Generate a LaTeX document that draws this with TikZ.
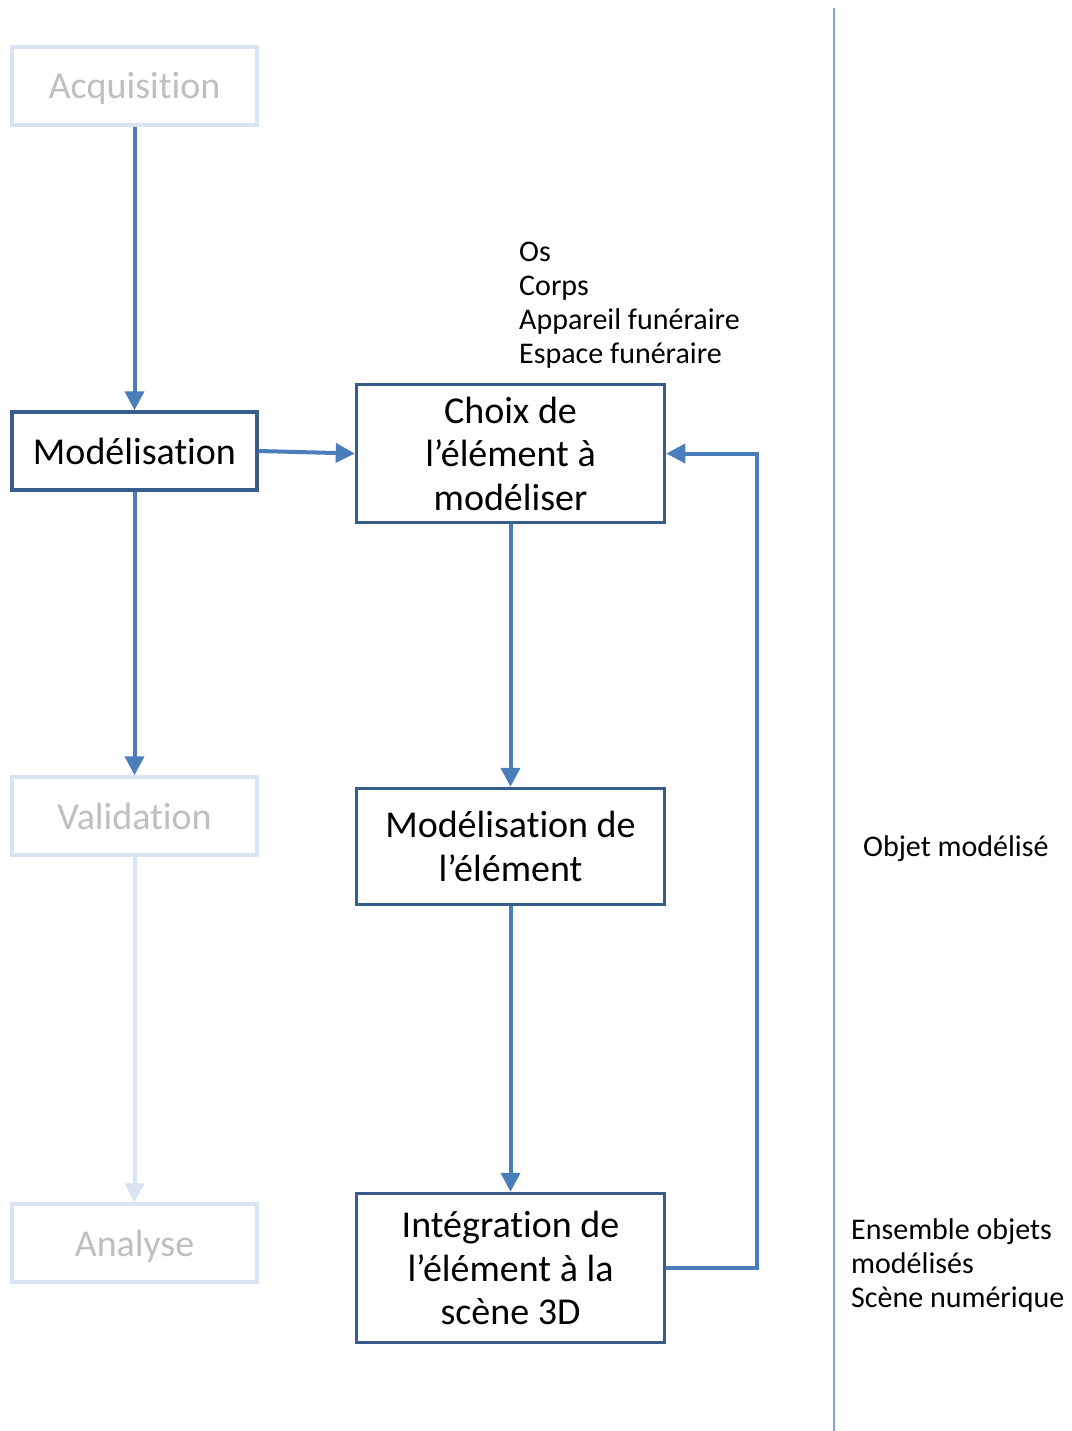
\documentclass[tikz,border=0pt]{standalone}
\usepackage{fontspec}
\setmainfont[Ligatures={NoRequired,NoCommon,NoContextual},Contextuals={NoAlternate}]{Carlito}
\usetikzlibrary{arrows.meta}
\definecolor{boxdark}{HTML}{385D8A}
\definecolor{arrowblue}{HTML}{4A7EBB}
\definecolor{boxlight}{HTML}{DAE3F1}
\definecolor{textgray}{HTML}{BFBFBF}
\definecolor{sepline}{HTML}{7FA4D6}
\tikzset{
  darkbox/.style={draw=boxdark, line width=3.5pt, fill=white, inner sep=0pt, align=center,
     font=\fontsize{38}{43.5}\selectfont, text=black},
  lightbox/.style={draw=boxlight, line width=3.5pt, fill=white, inner sep=0pt, align=center,
     font=\fontsize{38}{43.5}\selectfont, text=textgray},
  leftbox/.style={minimum width=245pt, minimum height=78pt, text height=34pt, text depth=8pt},
  midbox/.style={minimum width=308pt},
  flow/.style={draw=arrowblue, line width=4pt, -{Triangle[length=19pt,width=19pt]}},
  flowlight/.style={draw=boxlight, line width=4pt, -{Triangle[length=19pt,width=19pt]}},
  note/.style={align=left, inner sep=0pt, font=\fontsize{30}{34}\selectfont, text=black},
}
\begin{document}
\begin{tikzpicture}[x=1pt, y=-1pt]
\useasboundingbox (0,0) rectangle (1071,1431);
\fill[white] (0,0) rectangle (1071,1431);

% separator
\draw[sepline, line width=2pt] (834,8) -- (834,1431);

% left column
\node[lightbox, leftbox] (acq) at (134.5,86) {Acquisit\kern0pt ion};
\node[darkbox, leftbox] (modl) at (134.5,451) {Modélisat\kern0pt ion};
\node[lightbox, leftbox] (valid) at (134.5,816) {Validat\kern0pt ion};
\node[lightbox, leftbox] (anal) at (134.5,1243) {Analyse};

% middle column
\node[darkbox, midbox, minimum height=138pt] (choix) at (510.5,453.5) {Choix de\\l’élément à\\modéliser};
\node[darkbox, midbox, minimum height=116pt] (model) at (510.5,846.5) {Modélisat\kern0pt ion de\\l’élément};
\node[darkbox, midbox, minimum height=149pt] (integ) at (510.5,1268) {Intégrat\kern0pt ion de\\l’élément à la\\scène 3D};

% notes
\node[note, anchor=west] (elems) at (519,305) {Os\\Corps\\Appareil funéraire\\Espace funéraire};
\node[note, anchor=west] (objet) at (863,849) {Objet modélisé};
\node[note, anchor=west] (ensemble) at (851,1265) {Ensemble objets\\modélisés\\Scène numérique};

% connectors
\draw[flow] (acq) -- (modl);
\draw[flow] (modl) -- (valid);
\draw[flowlight] (valid) -- (anal);
\draw[flow] (modl.east) -- (choix.west);
\draw[flow] (choix) -- (model);
\draw[flow] (model) -- (integ);
\draw[flow] (integ.east) -- ++(91,0) |- (choix.east);
\end{tikzpicture}
\end{document}
